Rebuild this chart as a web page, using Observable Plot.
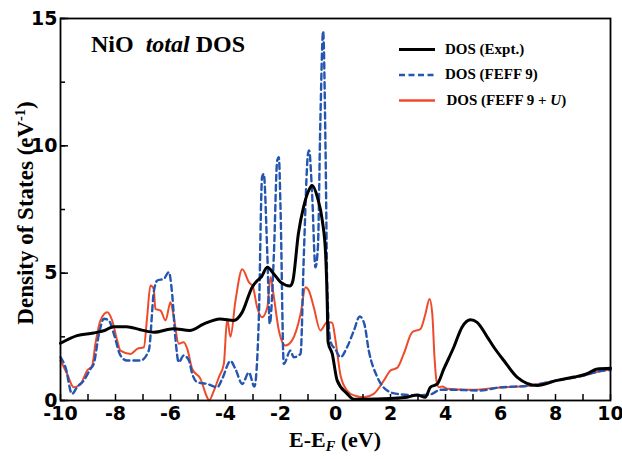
<!DOCTYPE html>
<html><head><meta charset="utf-8">
<script src="https://cdn.jsdelivr.net/npm/d3@7"></script>
<script src="https://cdn.jsdelivr.net/npm/@observablehq/plot@0.6"></script>
<style>
body{margin:0;background:#fff;}
#wrap{position:relative;width:622px;height:459px;overflow:hidden;}
.ov{position:absolute;font-family:"Liberation Serif","Times New Roman",serif;font-weight:bold;color:#000;white-space:nowrap;line-height:1;}
</style></head><body><div id="wrap"></div>
<script>
// Experimental DOS
const xExpt = [-10,-9.4,-8.8,-8.4,-8.07,-7.6,-7.1,-6.6,-5.9,-5.3,-4.8,-4.2,-3.7,-3.4,-3.03,-2.85,-2.7,-2.48,-2.25,-2.0,-1.65,-1.55,-1.35,-1.16,-0.95,-0.85,-0.65,-0.48,-0.36,-0.3,-0.27,-0.12,0.06,0.42,0.66,1.0,2.0,2.6,2.97,3.27,3.45,3.7,3.94,4.3,4.6,4.91,5.15,5.52,5.76,6.12,6.6,7.33,8.06,8.67,9.15,9.52,10];
const yExpt = [2.25,2.55,2.65,2.75,2.9,2.9,2.78,2.68,2.82,2.75,3.0,3.2,3.14,3.45,4.45,4.7,4.85,5.23,4.98,4.65,4.5,4.7,6.55,7.6,8.3,8.44,7.95,7.07,5.76,3.8,2.3,1.84,0.79,0.27,0.05,0.05,0.08,0.13,0.22,0.13,0.52,0.65,1.24,2.09,2.88,3.17,3.07,2.49,2.09,1.57,0.92,0.59,0.79,0.92,1.05,1.24,1.27];
// FEFF 9
const xFeff = [-10,-9.82,-9.58,-9.4,-9.15,-8.91,-8.79,-8.6,-8.42,-8.24,-8.06,-7.82,-7.58,-7.09,-6.79,-6.6,-6.48,-6.24,-6.06,-5.94,-5.82,-5.7,-5.52,-5.33,-5.21,-5.03,-4.67,-4.3,-4.12,-3.82,-3.64,-3.39,-3.15,-2.95,-2.79,-2.67,-2.61,-2.48,-2.39,-2.24,-2.12,-2.06,-2.0,-1.88,-1.64,-1.52,-1.27,-1.15,-1.0,-0.96,-0.85,-0.73,-0.64,-0.55,-0.45,-0.36,-0.3,-0.18,0.0,0.18,0.42,0.67,0.88,1.05,1.21,1.52,1.88,2.24,2.97,3.45,3.82,4.18,5.27,5.88,7.09,7.33,8.06,9.03,9.6,10];
const yFeff = [1.7,1.31,0.26,0.52,0.79,1.24,1.44,2.62,3.21,3.14,2.62,1.77,1.57,1.57,1.96,4.32,4.71,4.78,5.04,4.19,2.42,1.5,1.77,1.57,1.05,0.72,0.65,0.52,0.85,1.55,1.24,0.65,1.1,0.55,3.14,8.77,8.9,5.76,3.01,5.76,9.42,9.55,7.59,1.44,1.96,1.7,1.83,5.76,9.69,9.82,8.1,5.23,6.02,11,14.5,9.69,4.45,2.3,2.0,1.7,2.09,2.75,3.3,3.0,1.96,0.92,0.39,0.26,0.2,0.24,0.42,0.42,0.39,0.5,0.59,0.63,0.79,0.98,1.15,1.2];
// FEFF 9 + U
const xFeffU = [-10,-9.76,-9.52,-9.27,-9.03,-8.85,-8.73,-8.55,-8.3,-8.12,-7.94,-7.82,-7.45,-7.21,-6.97,-6.85,-6.73,-6.61,-6.55,-6.36,-6.18,-6.0,-5.88,-5.7,-5.52,-5.39,-5.21,-4.91,-4.67,-4.6,-4.42,-4.24,-4.06,-3.94,-3.82,-3.64,-3.39,-3.15,-3.0,-2.85,-2.67,-2.48,-2.36,-2.24,-2.06,-1.82,-1.58,-1.27,-1.09,-0.97,-0.79,-0.55,-0.3,-0.12,0.0,0.18,0.42,0.67,1.03,1.39,1.76,2.0,2.24,2.48,2.79,3.09,3.27,3.42,3.52,3.6,3.67,3.76,3.88,4.06,4.91,5.88,7.09,8.06,9.03,9.6,10];
const yFeffU = [1.57,1.05,0.52,0.65,1.18,1.37,2.23,3.14,3.47,3.14,2.36,1.96,1.83,2.03,2.09,3.27,4.52,4.39,3.6,3.53,3.14,3.86,3.27,2.23,2.29,2.03,1.24,0.85,0.13,0.0,0.39,0.92,1.44,3.2,2.5,3.9,5.15,4.65,4.45,3.66,3.27,3.66,4.84,4.06,2.75,2.16,2.36,3.4,4.45,4.32,3.66,2.75,3.08,3.05,2.36,1.0,0.39,0.2,0.13,0.26,0.79,1.18,1.28,1.83,2.68,2.81,3.4,3.99,3.4,1.7,0.79,0.52,0.55,0.46,0.42,0.5,0.59,0.79,0.98,1.15,1.22];
// ticks
const xMajor = [-10,-8,-6,-4,-2,0,2,4,6,8,10];
const xMinor = [-10,-9,-8,-7,-6,-5,-4,-3,-2,-1,0,1,2,3,4,5,6,7,8,9,10];
const yMajor = [0,5,10,15];
const yMinor = [0,2.5,5,7.5,10,12.5,15];

const zip = (xs, ys) => xs.map((x, i) => ({x, y: ys[i]}));
const expt = zip(xExpt, yExpt), feff = zip(xFeff, yFeff), feffU = zip(xFeffU, yFeffU);

const RED = "#ee4b2b", BLUE = "#2456b0";
const chart = Plot.plot({
  width: 622, height: 459,
  marginLeft: 60, marginRight: 12, marginTop: 18, marginBottom: 59,
  x: {domain: [-10, 10]},
  y: {domain: [0, 15]},
  style: {fontFamily: "'DejaVu Sans', sans-serif", fontWeight: "bold", fontSize: "19px", background: "white", color: "black"},
  marks: [
    Plot.line(feffU, {x: "x", y: "y", stroke: RED, strokeWidth: 2, curve: "monotone-x"}),
    Plot.line(feff, {x: "x", y: "y", stroke: BLUE, strokeWidth: 2.4, strokeDasharray: "6,4", curve: "monotone-x"}),
    Plot.line(expt, {x: "x", y: "y", stroke: "#000", strokeWidth: 3, curve: "monotone-x"}),
    Plot.frame({stroke: "#000", strokeWidth: 1.8}),
    Plot.axisX(xMinor, {tickSize: -6, fill: "none", strokeWidth: 1.5, label: null}),
    Plot.axisX(xMajor, {tickSize: 0, tickPadding: 6, label: null, tickFormat: d => String(d), lineAnchor: "top"}),
    Plot.axisY(yMinor, {tickSize: -5, fill: "none", strokeWidth: 1.5, label: null}),
    Plot.axisY(yMajor, {tickSize: -8, fill: "none", strokeWidth: 1.5, label: null}),
    Plot.axisY(yMajor, {tickSize: 0, tickPadding: 3, label: null, tickFormat: d => String(d)})
  ]
});
const wrap = document.getElementById("wrap");
wrap.appendChild(chart);

function ov(html, css) {
  const d = document.createElement("div");
  d.className = "ov";
  d.innerHTML = html;
  d.style.cssText += css;
  wrap.appendChild(d);
  return d;
}
// title
ov('NiO&nbsp; <i>total</i> DOS', 'left:91px;top:32px;font-size:24px;');
// axis labels
ov('E-E<span style="font-size:.65em;font-style:italic;position:relative;top:.3em">F</span> (eV)', 'left:335px;top:429px;font-size:22px;transform:translateX(-50%);');
ov('Density of States (eV<span style="font-size:.62em;position:relative;top:-.55em">-1</span>)', 'left:25px;top:213px;font-size:23px;transform:translate(-50%,-50%) rotate(-90deg);');
// legend
const legendLabels = ['DOS (Expt.)', 'DOS (FEFF 9)', 'DOS (FEFF 9 + <i>U</i>)'];
const legendColors = ["#000", BLUE, RED];
const legendDash = [null, "6,3.5", null];
const legendWidth = [3, 2.4, 2.5];
const rowY = [49.5, 75, 100.5];
const NS = "http://www.w3.org/2000/svg";
const sw = document.createElementNS(NS, "svg");
sw.setAttribute("width", 622); sw.setAttribute("height", 459);
sw.style.cssText = "position:absolute;left:0;top:0;pointer-events:none";
legendLabels.forEach((t, i) => {
  const l = document.createElementNS(NS, "line");
  l.setAttribute("x1", 399); l.setAttribute("x2", 435);
  l.setAttribute("y1", rowY[i]); l.setAttribute("y2", rowY[i]);
  l.setAttribute("stroke", legendColors[i]);
  l.setAttribute("stroke-width", legendWidth[i]);
  if (legendDash[i]) l.setAttribute("stroke-dasharray", legendDash[i]);
  sw.appendChild(l);
  ov(t, `left:${i === 2 ? 446.5 : 445}px;top:${rowY[i] - 8}px;font-size:15px;`);
});
wrap.appendChild(sw);
</script></body></html>
